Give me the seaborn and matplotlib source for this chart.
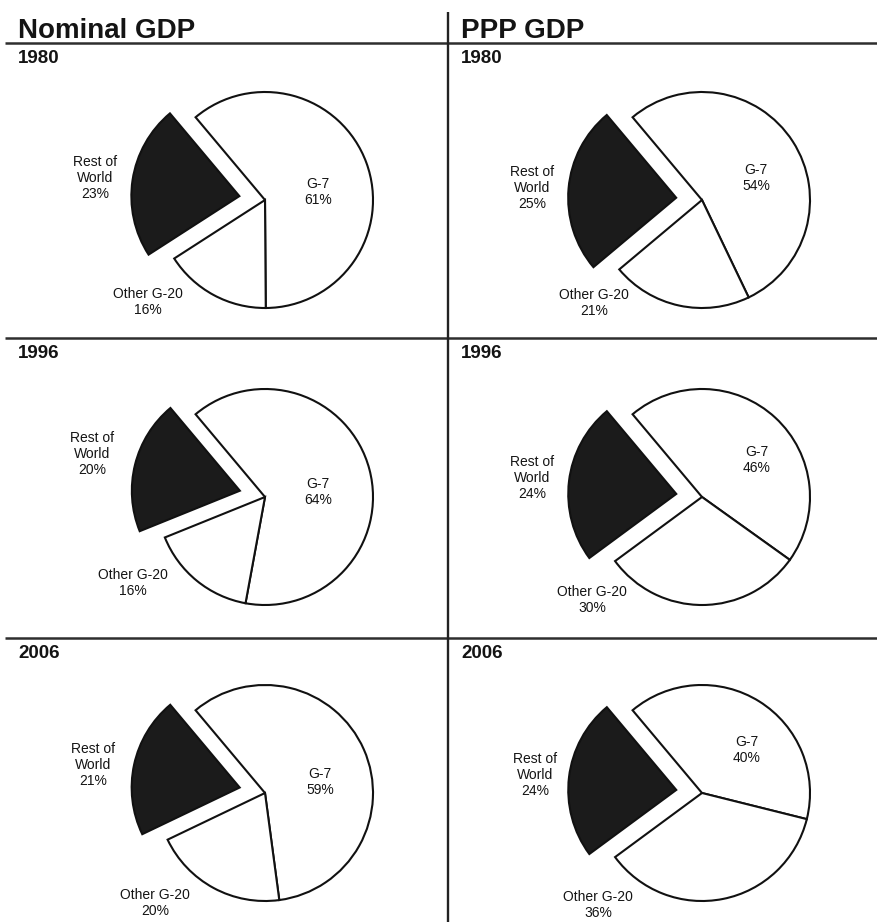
import matplotlib
matplotlib.use("Agg")
import matplotlib.pyplot as plt
import seaborn as sns

# Shares of world GDP (%), by group
groups = ["G-7", "Other G-20", "Rest of World"]
years = ["1980", "1996", "2006"]
panel_titles = ["Nominal GDP", "PPP GDP"]

nominal_g7 = [61, 64, 59]
nominal_other_g20 = [16, 16, 20]
nominal_rest = [23, 20, 21]

ppp_g7 = [54, 46, 40]
ppp_other_g20 = [21, 30, 36]
ppp_rest = [25, 24, 24]

sns.set_theme(style="white")
plt.rcParams["font.family"] = ["Liberation Sans", "DejaVu Sans"]

W_PX, H_PX, DPI = 878, 922, 100
fig = plt.figure(figsize=(W_PX / DPI, H_PX / DPI), dpi=DPI)
fig.patch.set_facecolor("white")

# Background layer in pixel units for rules and headings
bg = fig.add_axes([0, 0, 1, 1])
bg.set_xlim(0, W_PX)
bg.set_ylim(H_PX, 0)
bg.axis("off")

ink = "#141414"
rule_y = [43, 338, 638]
for y in rule_y:
    bg.plot([5, W_PX], [y, y], color="#2e2e2e", lw=1.8, solid_capstyle="butt")
bg.plot([448, 448], [12, H_PX], color="#222222", lw=1.7, solid_capstyle="butt")

col_x = [18, 461]
for x, title in zip(col_x, panel_titles):
    bg.text(x, 38, title, fontsize=20, fontweight="bold", color=ink,
            ha="left", va="baseline")
for y, yr in zip(rule_y, years):
    for x in col_x:
        bg.text(x, y + 20, yr, fontsize=13.5, fontweight="bold", color=ink,
                ha="left", va="baseline")

# Pie geometry (pixels)
R = 108
centers_x = [265, 702]
centers_y = [200, 497, 793]
box_w, box_h = 370, 292

# Label offsets from each pie's centre, in pixels (x right, y up):
# order G-7, Other G-20, Rest of World
label_offsets = {
    (0, 0): [(53, 8), (-117, -102), (-170, 22)],
    (0, 1): [(53, 5), (-132, -86), (-173, 43)],
    (0, 2): [(55, 11), (-110, -110), (-172, 28)],
    (1, 0): [(54, 22), (-108, -103), (-170, 12)],
    (1, 1): [(55, 37), (-110, -103), (-170, 19)],
    (1, 2): [(45, 43), (-104, -112), (-167, 18)],
}

series = [
    (nominal_g7, nominal_other_g20, nominal_rest),
    (ppp_g7, ppp_other_g20, ppp_rest),
]

wedge_colors = ["white", "white", "#1b1b1b"]
explode = [0, 0, 0.24]

for col, (g7, other, rest) in enumerate(series):
    for row in range(len(years)):
        cx, cy = centers_x[col], centers_y[row]
        ax = fig.add_axes([(cx - box_w / 2) / W_PX,
                           1 - (cy + box_h / 2) / H_PX,
                           box_w / W_PX, box_h / H_PX])
        values = [g7[row], other[row], rest[row]]
        ax.pie(values, colors=wedge_colors, explode=explode,
               startangle=130, counterclock=False, radius=1,
               wedgeprops=dict(edgecolor="#111111", linewidth=1.5))
        ax.set_aspect("auto")
        ax.set_xlim(-box_w / 2 / R, box_w / 2 / R)
        ax.set_ylim(-box_h / 2 / R, box_h / 2 / R)
        ax.axis("off")

        texts = [
            f"G-7\n{values[0]}%",
            f"Other G-20\n{values[1]}%",
            f"Rest of\nWorld\n{values[2]}%",
        ]
        for (dx, dy), txt in zip(label_offsets[(col, row)], texts):
            ax.text(dx / R, dy / R, txt, fontsize=10, color=ink,
                    ha="center", va="center", linespacing=1.15)

fig.savefig("out.png", dpi=DPI, facecolor="white")
